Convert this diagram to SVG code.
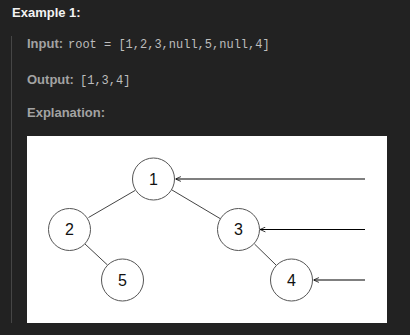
<svg xmlns="http://www.w3.org/2000/svg" width="410" height="335" viewBox="0 0 410 335">
<defs>
<marker id="arr" viewBox="0 0 10 10" refX="10" refY="5" markerWidth="6" markerHeight="6" markerUnits="userSpaceOnUse" orient="auto">
<path d="M1,1 L10,5 L1,9" fill="none" stroke="#000" stroke-width="1.3"/>
</marker>
<style>
.lbl{font-family:"Liberation Sans",Arial,sans-serif;font-weight:bold;font-size:13px;fill:#a3a3a3}
.mono{font-family:"Liberation Mono","DejaVu Sans Mono",monospace;font-size:12px;fill:#bdbdbd}
.node circle{fill:#fff;stroke:#555;stroke-width:1}
.node text{font-family:"Liberation Sans",Arial,sans-serif;font-size:16px;fill:#111;text-anchor:middle}
.edge{stroke:#444;stroke-width:1;fill:none}
.arrow{stroke:#000;stroke-width:1.2;fill:none;marker-end:url(#arr)}
</style>
</defs>
<rect x="0" y="0" width="410" height="335" fill="#222"/>
<text x="12" y="16.5" font-family="Liberation Sans, Arial, sans-serif" font-weight="bold" font-size="13" fill="#f2f2f2">Example 1:</text>
<rect x="11" y="36" width="1" height="287" fill="#464646"/>
<text x="27" y="48" class="lbl">Input:</text>
<text x="68" y="48" class="mono">root = [1,2,3,null,5,null,4]</text>
<text x="27" y="84" class="lbl">Output:</text>
<text x="80" y="84" class="mono">[1,3,4]</text>
<text x="27" y="117" class="lbl">Explanation:</text>
<rect x="27" y="136" width="360" height="187" fill="#fff"/>
<g id="connectors">
<line class="edge" x1="135" y1="190.5" x2="88.5" y2="217.5"/>
<line class="edge" x1="172" y1="190" x2="220" y2="218.5"/>
<line class="edge" x1="85" y1="244" x2="107.5" y2="265"/>
<line class="edge" x1="254.5" y1="244" x2="276" y2="265"/>
<line class="arrow" x1="365" y1="179" x2="175.5" y2="179"/>
<line class="arrow" x1="365" y1="229.5" x2="260" y2="229.5"/>
<line class="arrow" x1="365" y1="280" x2="313.5" y2="280"/>
</g>
<g id="n1" class="node"><circle cx="153.5" cy="179" r="21"/><text x="153.5" y="184.5">1</text></g>
<g id="n2" class="node"><circle cx="69.5" cy="229.5" r="21"/><text x="69.5" y="235">2</text></g>
<g id="n3" class="node"><circle cx="238.5" cy="229.5" r="21"/><text x="238.5" y="235">3</text></g>
<g id="n5" class="node"><circle cx="122.5" cy="280" r="21"/><text x="122.5" y="285.5">5</text></g>
<g id="n4" class="node"><circle cx="291.5" cy="280" r="21"/><text x="291.5" y="285.5">4</text></g>
</svg>
